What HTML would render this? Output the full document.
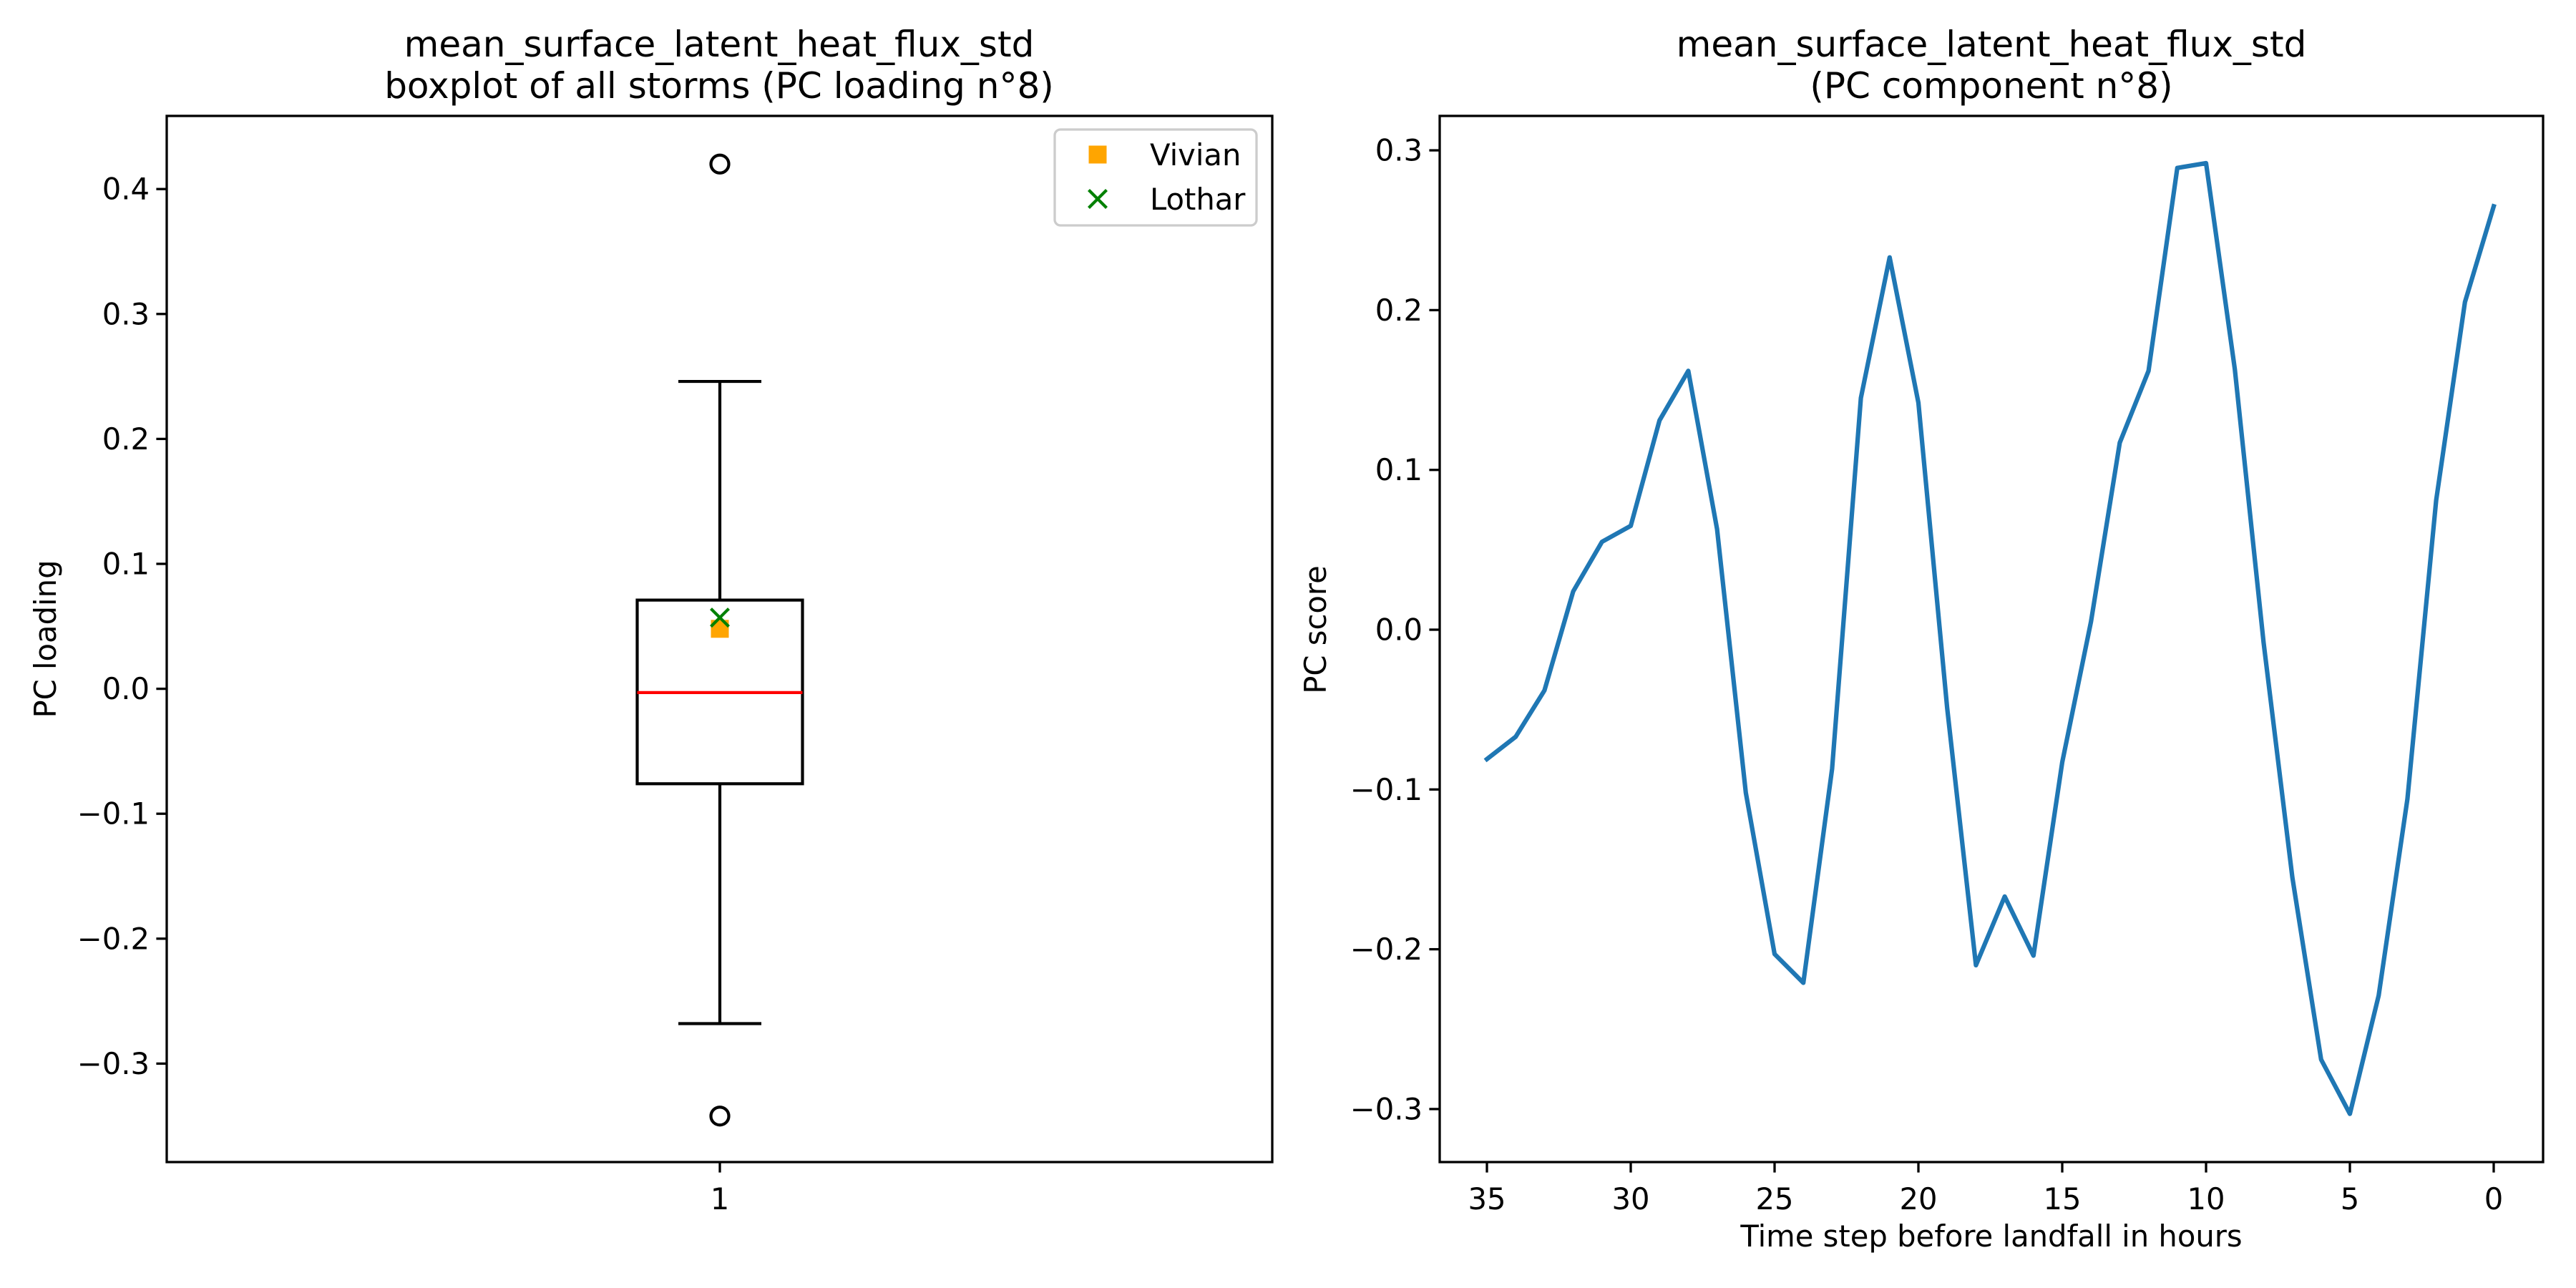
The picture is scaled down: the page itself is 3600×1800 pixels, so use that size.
<!DOCTYPE html>
<html><head><meta charset="utf-8"><style>
html,body{margin:0;padding:0;background:#fff}
svg{display:block;font-family:"DejaVu Sans","Liberation Sans",sans-serif}
</style></head><body>
<svg id="fig" width="3600" height="1800" viewBox="0 0 3600 1800">
<rect width="3600" height="1800" fill="#fff"/>
<g id="left"></g>
<g id="right"></g>
</svg>
<script>
const boxYTicks = [0.4, 0.3, 0.2, 0.1, 0.0, -0.1, -0.2, -0.3];
const boxStats = [0.246, 0.071, -0.003, -0.076, -0.268]; // whiskerHi, q3, median, q1, whiskerLo
const boxFliers = [0.42, -0.342];
const vivianValue = [0.048];
const lotharValue = [0.057];
const hours = [35,34,33,32,31,30,29,28,27,26,25,24,23,22,21,20,19,18,17,16,15,14,13,12,11,10,9,8,7,6,5,4,3,2,1,0];
const pcScores = [-0.081,-0.067,-0.038,0.024,0.055,0.065,0.131,0.162,0.063,-0.102,-0.203,-0.221,-0.087,0.145,0.233,0.142,-0.049,-0.210,-0.167,-0.204,-0.083,0.005,0.117,0.162,0.289,0.292,0.163,-0.008,-0.155,-0.269,-0.303,-0.229,-0.106,0.081,0.205,0.265];
const scoreYTicks = [0.3, 0.2, 0.1, 0.0, -0.1, -0.2, -0.3];
const hourTicks = [35, 30, 25, 20, 15, 10, 5, 0];

const NS = "http://www.w3.org/2000/svg";
function mk(parent, tag, attrs, text){
  const e = document.createElementNS(NS, tag);
  for (const k in attrs) e.setAttribute(k, attrs[k]);
  if (text !== undefined) e.textContent = text;
  parent.appendChild(e);
  return e;
}
const FS = 41.7, TFS = 50;

// ---------- Left panel ----------
const L = document.getElementById('left');
const lx0 = 233, lx1 = 1778, ly0 = 162, ly1 = 1624;
const ly = v => 962.6 - v * 1746;
const lcx = 1006;

// y ticks
boxYTicks.forEach(t => {
  const y = ly(t);
  const tk = mk(L, 'line', {x1: lx0 - 14.6, x2: lx0, y1: y, y2: y, stroke: '#000', 'stroke-width': 3.3});
  
  
  const lb = mk(L, 'text', {x: lx0 - 24, y: y + 14.5, 'font-size': FS, 'text-anchor': 'end'}, (t < 0 ? '\u2212' : '') + Math.abs(t).toFixed(1));
  
  
});
// x tick "1"
{
  const tk = mk(L, 'line', {x1: lcx, x2: lcx, y1: ly1, y2: ly1 + 14.6, stroke: '#000', 'stroke-width': 3.3});
  
  
  const lb = mk(L, 'text', {x: lcx, y: ly1 + 66, 'font-size': FS, 'text-anchor': 'middle'}, '1');
  
  
}
// box
{
  const bw = 115.5, cw = 58;
  const [wh, q3, med, q1, wl] = boxStats;
  const g = mk(L, 'g', {stroke: '#000', 'stroke-width': 4.2, fill: 'none'});
  
  
  mk(g, 'rect', {x: lcx - bw, y: ly(q3), width: 2 * bw, height: ly(q1) - ly(q3)});
  const w1 = mk(g, 'line', {x1: lcx, x2: lcx, y1: ly(q3), y2: ly(wh)});
  
  
  const w2 = mk(g, 'line', {x1: lcx, x2: lcx, y1: ly(q1), y2: ly(wl)});
  
  
  mk(g, 'line', {x1: lcx - cw, x2: lcx + cw, y1: ly(wh), y2: ly(wh)});
  mk(g, 'line', {x1: lcx - cw, x2: lcx + cw, y1: ly(wl), y2: ly(wl)});
  const m = mk(L, 'line', {x1: lcx - bw, x2: lcx + bw, y1: ly(med), y2: ly(med), stroke: '#ff0000', 'stroke-width': 4.2});
  
  
  boxFliers.forEach(f => {
    const c = mk(L, 'circle', {cx: lcx, cy: ly(f), r: 12.5, fill: 'none', stroke: '#000', 'stroke-width': 4.2});
    
    
  });
  vivianValue.forEach(v => {
    const s = mk(L, 'rect', {x: lcx - 12.5, y: ly(v) - 12.5, width: 25, height: 25, fill: '#ffa500'});
    
    
  });
  lotharValue.forEach(v => {
    const y = ly(v);
    const p = mk(L, 'path', {d: `M${lcx-12.5},${y-12.5}L${lcx+12.5},${y+12.5}M${lcx-12.5},${y+12.5}L${lcx+12.5},${y-12.5}`, stroke: '#008000', 'stroke-width': 4.2});
    
    
  });
}
{
  const f = mk(L, 'rect', {x: lx0, y: ly0, width: lx1 - lx0, height: ly1 - ly0, fill: 'none', stroke: '#000', 'stroke-width': 3.3});
  
  
}
// legend
{
  const g = mk(L, 'g', {});
  
  
  mk(g, 'rect', {x: 1474, y: 181, width: 282, height: 134, rx: 8, fill: '#fff', 'fill-opacity': 0.8, stroke: '#ccc', 'stroke-width': 3.3});
  const e1 = mk(g, 'g', {});
  
  
  mk(e1, 'rect', {x: 1521.5, y: 203.5, width: 25, height: 25, fill: '#ffa500'});
  mk(e1, 'text', {x: 1607, y: 231, 'font-size': FS}, 'Vivian');
  const e2 = mk(g, 'g', {});
  
  
  mk(e2, 'path', {d: 'M1521.5,265.5L1546.5,290.5M1521.5,290.5L1546.5,265.5', stroke: '#008000', 'stroke-width': 4.2});
  mk(e2, 'text', {x: 1607, y: 293, 'font-size': FS}, 'Lothar');
}
{
  const t = mk(L, 'text', {x: 1005, y: 79, 'font-size': TFS, 'text-anchor': 'middle'}, 'mean_surface_latent_heat_flux_std');
  
  
  const t2 = mk(L, 'text', {x: 1005, y: 137, 'font-size': TFS, 'text-anchor': 'middle'}, 'boxplot of all storms (PC loading n\u00b08)');
  
  
  const yl = mk(L, 'text', {x: 0, y: 0, 'font-size': FS, 'text-anchor': 'middle', transform: 'translate(78,893) rotate(-90)'}, 'PC loading');
  
  
}

// ---------- Right panel ----------
const R = document.getElementById('right');
const rx0 = 2012, rx1 = 3554, ry0 = 162, ry1 = 1624;
const ry = v => 880 - v * 2233;
const rx = h => 3485 - h * 40.2;

scoreYTicks.forEach(t => {
  const y = ry(t);
  const tk = mk(R, 'line', {x1: rx0 - 14.6, x2: rx0, y1: y, y2: y, stroke: '#000', 'stroke-width': 3.3});
  
  
  const lb = mk(R, 'text', {x: rx0 - 24, y: y + 14.5, 'font-size': FS, 'text-anchor': 'end'}, (t < 0 ? '\u2212' : '') + Math.abs(t).toFixed(1));
  
  
});
hourTicks.forEach(h => {
  const x = rx(h);
  const tk = mk(R, 'line', {x1: x, x2: x, y1: ry1, y2: ry1 + 14.6, stroke: '#000', 'stroke-width': 3.3});
  
  
  const lb = mk(R, 'text', {x: x, y: ry1 + 66, 'font-size': FS, 'text-anchor': 'middle'}, String(h));
  
  
});
{
  const d = hours.map((h, i) => (i ? 'L' : 'M') + rx(h).toFixed(1) + ',' + ry(pcScores[i]).toFixed(1)).join('');
  const p = mk(R, 'path', {d: d, fill: 'none', stroke: '#1f77b4', 'stroke-width': 6.25, 'stroke-linejoin': 'round', 'stroke-linecap': 'square'});
  
  
}
{
  const f = mk(R, 'rect', {x: rx0, y: ry0, width: rx1 - rx0, height: ry1 - ry0, fill: 'none', stroke: '#000', 'stroke-width': 3.3});
  
  
  const t = mk(R, 'text', {x: 2783, y: 79, 'font-size': TFS, 'text-anchor': 'middle'}, 'mean_surface_latent_heat_flux_std');
  
  
  const t2 = mk(R, 'text', {x: 2783, y: 137, 'font-size': TFS, 'text-anchor': 'middle'}, '(PC component n\u00b08)');
  
  
  const yl = mk(R, 'text', {x: 0, y: 0, 'font-size': FS, 'text-anchor': 'middle', transform: 'translate(1853,880) rotate(-90)'}, 'PC score');
  
  
  const xl = mk(R, 'text', {x: 2783, y: 1742, 'font-size': FS, 'text-anchor': 'middle'}, 'Time step before landfall in hours');
  
  
}
</script>
</body></html>
